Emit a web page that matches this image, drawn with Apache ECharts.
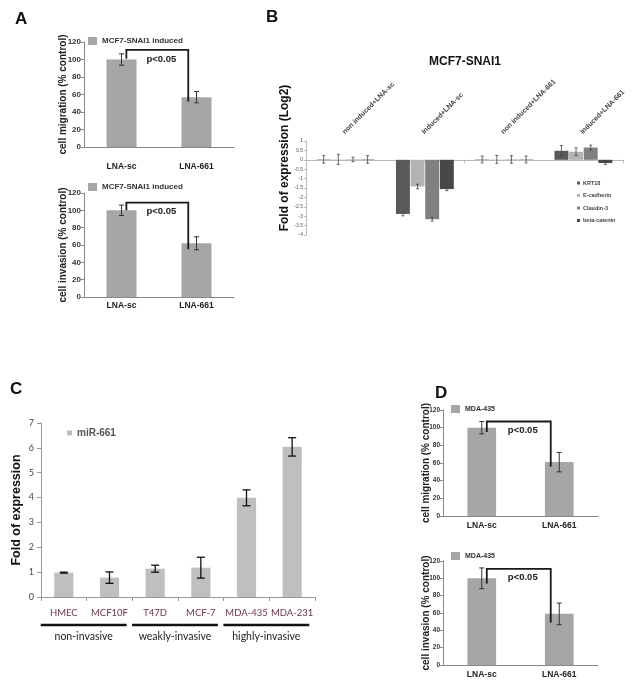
<!DOCTYPE html>
<html><head><meta charset="utf-8">
<script src="https://cdn.jsdelivr.net/npm/echarts@6/dist/echarts.min.js"></script>
<style>html,body{margin:0;padding:0;background:#fff}#c{width:635px;height:686px}</style>
</head><body><div id="c"></div>
<script>
// ---------- data ----------
const lnaCats = ['LNA-sc', 'LNA-661'];
const aMigration = [100, 57];
const aMigrationErr = [6.5, 6.5];
const aInvasion = [100, 62];
const aInvasionErr = [6, 7.5];
const dMigration = [100, 61];
const dMigrationErr = [7, 11];
const dInvasion = [100, 59];
const dInvasionErr = [12, 12.5];
// bracket values: [left foot, top, right foot]
const aMigBracket = [101, 111, 52];
const aInvBracket = [100, 109, 55];
const dMigBracket = [95, 107, 56];
const dInvBracket = [94, 111, 49];
const pText = 'p<0.05';

const bCats = ['non induced+LNA-sc', 'induced+LNA-sc', 'non induced+LNA-661', 'induced+LNA-661'];
const bGenes = ['KRT18', 'E-cadherin', 'Claudin-3', 'beta-catenin'];
const krt18 = [0.02, -2.88, 0.02, 0.48];
const krt18Err = [0.2, 0.1, 0.18, 0.28];
const ecad = [0.02, -1.42, 0.02, 0.43];
const ecadErr = [0.27, 0.12, 0.21, 0.21];
const cldn = [0.02, -3.16, 0.02, 0.65];
const cldnErr = [0.12, 0.1, 0.2, 0.13];
const bcat = [0.02, -1.56, 0.02, -0.17];
const bcatErr = [0.2, 0.08, 0.18, 0.08];

const cCells = ['HMEC', 'MCF10F', 'T47D', 'MCF-7', 'MDA-435', 'MDA-231'];
const mir661 = [0.98, 0.78, 1.14, 1.18, 3.99, 6.04];
const mir661Err = [0.02, 0.23, 0.14, 0.42, 0.32, 0.37];
const cGroups = ['non-invasive', 'weakly-invasive', 'highly-invasive'];
const cGroupStart = [0, 2, 4];
const cGroupEnd = [1, 3, 5];

// ---------- helpers ----------
const F = 'Liberation Sans, Arial, sans-serif';
const L = 'Lato, Open Sans, sans-serif';

function errRender(o) {
  return function (params, api) {
    const i = api.value(0), v = api.value(1), e = api.value(2);
    const bw = api.size([1, 0])[0];
    let off = 0;
    if (o.n > 1) {
      const total = bw * (1 - o.catGap);
      const w = total / (o.n + (o.n - 1) * o.barGap);
      off = -total / 2 + o.k * w * (1 + o.barGap) + w / 2;
    }
    const hi = api.coord([i, v + e]), lo = api.coord([i, v - e]);
    const x = hi[0] + off, c = o.cap;
    const st = { stroke: o.color, lineWidth: o.lw };
    return { type: 'group', children: [
      { type: 'line', shape: { x1: x, y1: hi[1], x2: x, y2: lo[1] }, style: st },
      { type: 'line', shape: { x1: x - c, y1: hi[1], x2: x + c, y2: hi[1] }, style: st },
      { type: 'line', shape: { x1: x - c, y1: lo[1], x2: x + c, y2: lo[1] }, style: st }
    ] };
  };
}
function errSeries(xi, yi, vals, errs, o) {
  return { type: 'custom', xAxisIndex: xi, yAxisIndex: yi, z: 5, encode: { x: 0, y: 1 },
    renderItem: errRender(o), data: vals.map((v, i) => [i, v, errs[i]]), silent: true };
}
function bracketRender(params, api) {
  const bw = api.size([1, 0])[0];
  const top = api.coord([api.value(0), api.value(2)]);
  const lx = top[0] + bw * 0.065;
  const rx = api.coord([api.value(3), api.value(2)])[0] - bw * 0.11;
  const ty = top[1];
  const ly = api.coord([api.value(0), api.value(1)])[1];
  const ry = api.coord([api.value(3), api.value(4)])[1];
  return { type: 'group', children: [
    { type: 'polyline', shape: { points: [[lx, ly], [lx, ty], [rx, ty], [rx, ry]] },
      style: { stroke: '#1a1a1a', lineWidth: 1.8, fill: 'none' } },
    { type: 'text', style: { text: pText, x: (lx + rx) / 2 + 4, y: ty + 9, align: 'center', verticalAlign: 'middle',
      fontSize: 9.5, fontWeight: 'bold', fontFamily: F, fill: '#1a1a1a' } }
  ] };
}
function bracketSeries(xi, yi, b) {
  return { type: 'custom', xAxisIndex: xi, yAxisIndex: yi, z: 6, encode: { x: 0, y: 1 }, silent: true,
    renderItem: bracketRender, data: [[0, b[0], b[1], 1, b[2]]] };
}
function pctY(grid, fs, name, nameGap) {
  return { type: 'value', gridIndex: grid, min: 0, max: 120, interval: 20,
    name: name, nameLocation: 'middle', nameGap: nameGap, nameMoveOverlap: false,
    nameTextStyle: { fontWeight: 'bold', fontSize: 10, color: '#222', fontFamily: F },
    axisLine: { show: true, lineStyle: { color: '#888' } },
    axisTick: { show: true, length: 3, lineStyle: { color: '#888' } },
    splitLine: { show: false },
    axisLabel: { fontSize: fs, fontWeight: 'bold', color: '#333', margin: 3, fontFamily: F } };
}
function lnaX(grid, margin) {
  return { type: 'category', gridIndex: grid, data: lnaCats,
    axisLine: { lineStyle: { color: '#888' } }, axisTick: { show: false },
    axisLabel: { fontSize: 8.5, fontWeight: 'bold', color: '#222', margin: margin, fontFamily: F } };
}
function lnaLegend(name, left, top, fs) {
  return { data: [name], left: left, top: top, padding: 0, icon: 'rect', itemWidth: 9, itemHeight: 8,
    selectedMode: false, textStyle: { fontSize: fs, fontWeight: 'bold', color: '#333', fontFamily: F } };
}
const barGray = '#a6a6a6';
const bColors = ['#595959', '#b3b3b3', '#808080', '#484848'];
const bVals = [krt18, ecad, cldn, bcat];
const bErrs = [krt18Err, ecadErr, cldnErr, bcatErr];

const series = [
  { type: 'bar', name: 'MCF7-SNAI1 induced', xAxisIndex: 0, yAxisIndex: 0, data: aMigration, barWidth: '40%', itemStyle: { color: barGray } },
  errSeries(0, 0, aMigration, aMigrationErr, { n: 1, cap: 2.5, color: '#333', lw: 1 }),
  bracketSeries(0, 0, aMigBracket),
  { type: 'bar', name: 'MCF7-SNAI1 induced', xAxisIndex: 1, yAxisIndex: 1, data: aInvasion, barWidth: '40%', itemStyle: { color: barGray } },
  errSeries(1, 1, aInvasion, aInvasionErr, { n: 1, cap: 2.5, color: '#333', lw: 1 }),
  bracketSeries(1, 1, aInvBracket)
];
bGenes.forEach((g, k) => {
  series.push({ type: 'bar', name: g, xAxisIndex: 2, yAxisIndex: 2, data: bVals[k],
    barCategoryGap: '27%', barGap: '5%', itemStyle: { color: bColors[k] } });
});
bGenes.forEach((g, k) => {
  series.push(errSeries(2, 2, bVals[k], bErrs[k], { n: 4, k: k, catGap: 0.27, barGap: 0.05, cap: 1.5, color: '#444', lw: 0.8 }));
});
// rotated category labels above panel B (start at the category centre, reading up-right)
series.push({ type: 'custom', xAxisIndex: 2, yAxisIndex: 2, encode: { x: 0, y: 1 }, silent: true, clip: false,
  data: bCats.map((c, i) => [i, 1]),
  renderItem: function (params, api) {
    const p = api.coord([api.value(0), api.value(1)]);
    return { type: 'text', x: p[0] - 2, y: p[1] - 8, rotation: Math.PI / 4,
      style: { text: bCats[params.dataIndex], align: 'left', verticalAlign: 'middle',
        fontSize: 7, fontWeight: 'bold', fontFamily: F, fill: '#444' } };
  } });
series.push({ type: 'bar', name: 'miR-661', xAxisIndex: 4, yAxisIndex: 3, data: mir661, barWidth: '42%', itemStyle: { color: '#bfbfbf' } });
series.push(errSeries(4, 3, mir661, mir661Err, { n: 1, cap: 4, color: '#111', lw: 1.3 }));
series.push({ type: 'custom', xAxisIndex: 4, yAxisIndex: 3, encode: { x: 0, y: 1 }, silent: true, clip: false,
  data: cGroupStart.map((s, k) => [s, 0, cGroupEnd[k], k]),
  renderItem: function (params, api) {
    const bw = api.size([1, 0])[0];
    const a = api.coord([api.value(0), 0]), b = api.coord([api.value(2), 0]);
    const mid = (a[0] + b[0]) / 2 - 3, half = bw * 0.94, y = a[1];
    return { type: 'group', children: [
      { type: 'line', shape: { x1: mid - half, y1: y + 28, x2: mid + half, y2: y + 28 }, style: { stroke: '#111', lineWidth: 2.7 } },
      { type: 'text', style: { text: cGroups[api.value(3)], x: mid, y: y + 40, align: 'center', verticalAlign: 'middle',
        fontSize: 10.5, fontFamily: L, fill: '#222' } }
    ] };
  } });
series.push({ type: 'bar', name: 'MDA-435', xAxisIndex: 5, yAxisIndex: 4, data: dMigration, barWidth: '37%', itemStyle: { color: barGray } });
series.push(errSeries(5, 4, dMigration, dMigrationErr, { n: 1, cap: 2.5, color: '#333', lw: 1 }));
series.push(bracketSeries(5, 4, dMigBracket));
series.push({ type: 'bar', name: 'MDA-435', xAxisIndex: 6, yAxisIndex: 5, data: dInvasion, barWidth: '37%', itemStyle: { color: barGray } });
series.push(errSeries(6, 5, dInvasion, dInvasionErr, { n: 1, cap: 2.5, color: '#333', lw: 1 }));
series.push(bracketSeries(6, 5, dInvBracket));

const letter = (t, l, tp) => ({ text: t, left: l, top: tp, padding: 0,
  textStyle: { fontSize: 17, fontWeight: 'bold', color: '#111', fontFamily: F } });

const option = {
  animation: false,
  backgroundColor: '#fff',
  title: [
    letter('A', 15, 11), letter('B', 266, 9), letter('C', 10, 381), letter('D', 435, 385),
    { text: 'MCF7-SNAI1', left: 465, top: 56, textAlign: 'center', padding: 0,
      textStyle: { fontSize: 12, fontWeight: 'bold', color: '#111', fontFamily: F } }
  ],
  legend: [
    lnaLegend('MCF7-SNAI1 induced', 88, 37, 8),
    lnaLegend('MCF7-SNAI1 induced', 88, 183, 8),
    lnaLegend('MDA-435', 451, 405, 7),
    lnaLegend('MDA-435', 451, 552, 7),
    { data: ['miR-661'], left: 67, top: 428, padding: 0, icon: 'rect', itemWidth: 5, itemHeight: 5, selectedMode: false,
      textStyle: { fontSize: 10, fontWeight: 'bold', color: '#555', fontFamily: F } },
    { data: bGenes, orient: 'vertical', left: 577, top: 180, padding: 0, icon: 'rect', itemWidth: 3, itemHeight: 3,
      itemGap: 6.5, selectedMode: false, textStyle: { fontSize: 5.5, fontWeight: 'bold', color: '#444', fontFamily: F, padding: [0, 0, 0, -2] } }
  ],
  grid: [
    { left: 84, top: 42, width: 150, height: 105 },
    { left: 84, top: 193, width: 150, height: 104 },
    { left: 306, top: 141, width: 317, height: 94 },
    { left: 41, top: 423, width: 274, height: 174 },
    { left: 443, top: 410, width: 155, height: 106 },
    { left: 443, top: 561, width: 155, height: 104 }
  ],
  xAxis: [
    lnaX(0, 15),
    lnaX(1, 4),
    { type: 'category', gridIndex: 2, data: bCats, position: 'bottom',
      axisLine: { onZero: true, lineStyle: { color: '#bbb' } },
      axisTick: { show: true, length: 3, lineStyle: { color: '#bbb' } }, axisLabel: { show: false } },
    { type: 'category', gridIndex: 2, data: bCats, position: 'top', show: false,
      axisLine: { show: false, onZero: false }, axisTick: { show: false }, axisLabel: { show: false } },
    { type: 'category', gridIndex: 3, data: cCells,
      axisLine: { lineStyle: { color: '#999' } },
      axisTick: { show: true, length: 4, lineStyle: { color: '#999' } },
      axisLabel: { interval: 0, fontSize: 9.5, color: '#6d3545', margin: 11, fontFamily: L } },
    lnaX(4, 5),
    lnaX(5, 5)
  ],
  yAxis: [
    pctY(0, 8, 'cell migration (% control)', 16),
    pctY(1, 8, 'cell invasion (% control)', 16),
    { type: 'value', gridIndex: 2, min: -4, max: 1, interval: 0.5,
      name: 'Fold of expression (Log2)', nameLocation: 'middle', nameGap: 15,
      nameTextStyle: { fontSize: 12, fontWeight: 'bold', color: '#111', fontFamily: F, padding: [0, 0, 0, 60] },
      axisLine: { show: true, lineStyle: { color: '#bbb' } },
      axisTick: { show: true, length: 2, lineStyle: { color: '#bbb' } },
      splitLine: { show: false },
      axisLabel: { fontSize: 5, color: '#555', margin: 3, fontFamily: F } },
    { type: 'value', gridIndex: 3, min: 0, max: 7, interval: 1,
      name: 'Fold of expression', nameLocation: 'middle', nameGap: 18,
      nameTextStyle: { fontSize: 12.5, fontWeight: 'bold', color: '#111', fontFamily: F },
      axisLine: { show: true, lineStyle: { color: '#999' } },
      axisTick: { show: true, length: 4, lineStyle: { color: '#999' } },
      splitLine: { show: false },
      axisLabel: { fontSize: 9, color: '#444', margin: 7, fontFamily: L } },
    pctY(4, 6.5, 'cell migration (% control)', 12),
    pctY(5, 6.5, 'cell invasion (% control)', 12)
  ],
  series: series
};
const chart = echarts.init(document.getElementById('c'), null, { renderer: 'canvas' });
chart.setOption(option);
</script>
</body></html>
